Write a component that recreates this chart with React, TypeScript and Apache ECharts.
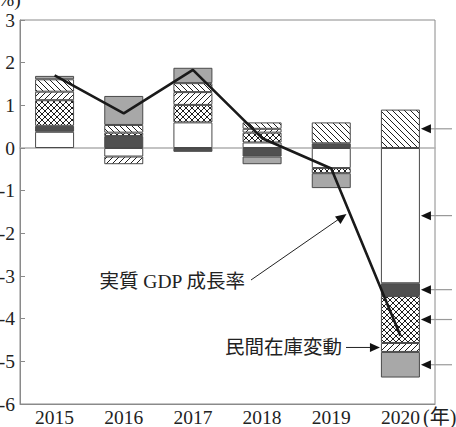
import React, { useEffect, useRef } from 'react';
import * as echarts from 'echarts';

const years = ['2015', '2016', '2017', '2018', '2019', '2020'];
// 民間消費 (white)
const consumption = [0.38, -0.2, 0.6, 0.13, -0.47, -3.17];
// 住宅投資 (dark grey)
const housing = [0.14, 0.28, -0.09, -0.2, 0.11, -0.3];
// 設備投資 (cross hatch)
const capex = [0.6, 0.08, 0.41, 0.23, -0.12, -1.1];
// 民間在庫変動 (//// hatch)
const inventory: (number | null)[] = [0.2, -0.18, 0.3, 0.09, null, -0.21];
// 公的需要 (\\\\ hatch)
const publicDemand = [0.29, 0.18, 0.21, 0.15, 0.49, 0.9];
// 純輸出 (light grey)
const netExports = [0.08, 0.68, 0.36, -0.18, -0.35, -0.6];
// 実質GDP成長率
const gdp = [1.7, 0.81, 1.83, 0.23, -0.48, -4.4];

const FONT = "'Liberation Serif', 'Noto Sans CJK JP', serif";

function makeHatch(kind: 'back' | 'fwd' | 'cross') {
  const s = 6;
  const c = document.createElement('canvas');
  c.width = s;
  c.height = s;
  const ctx = c.getContext('2d')!;
  ctx.fillStyle = '#ffffff';
  ctx.fillRect(0, 0, s, s);
  ctx.strokeStyle = '#1e1e1e';
  ctx.lineWidth = 1;
  const fwd = () => {
    ctx.beginPath();
    ctx.moveTo(0, s); ctx.lineTo(s, 0);
    ctx.moveTo(-1, 1); ctx.lineTo(1, -1);
    ctx.moveTo(s - 1, s + 1); ctx.lineTo(s + 1, s - 1);
    ctx.stroke();
  };
  const back = () => {
    ctx.beginPath();
    ctx.moveTo(0, 0); ctx.lineTo(s, s);
    ctx.moveTo(-1, s - 1); ctx.lineTo(1, s + 1);
    ctx.moveTo(s - 1, -1); ctx.lineTo(s + 1, 1);
    ctx.stroke();
  };
  if (kind === 'fwd') fwd();
  else if (kind === 'back') back();
  else { fwd(); back(); }
  return { image: c.toDataURL(), repeat: 'repeat', imageWidth: s, imageHeight: s };
}

export default function App() {
  const ref = useRef<HTMLDivElement>(null);
  useEffect(() => {
    const el = ref.current!;
    const chart = echarts.init(el, null, { renderer: 'svg' });
    const pBack = makeHatch('back');
    const pFwd = makeHatch('fwd');
    const pCross = makeHatch('cross');
    const BW = 39;
    const mkBar = (name: string, data: any[], color: any) => ({
      type: 'bar',
      name,
      data,
      stack: 'total',
      barWidth: BW,
      silent: true,
      itemStyle: { color, borderColor: '#4a4a4a', borderWidth: 1 },
    });
    const option: any = {
      animation: false,
      grid: {
        left: 20, right: 21, top: 20, bottom: 23,
        show: true, borderColor: '#8a8a8a', borderWidth: 1,
        containLabel: false, outerBoundsMode: 'none',
      },
      xAxis: [
        {
          type: 'category',
          data: years,
          axisLine: { onZero: false, lineStyle: { color: '#8a8a8a', width: 1 } },
          axisTick: { inside: true, alignWithLabel: true, length: 5, lineStyle: { color: '#8a8a8a' } },
          axisLabel: { fontSize: 19.5, fontFamily: FONT, color: '#222', margin: 4 },
          splitLine: { show: false },
        },
        {
          type: 'category',
          data: years,
          position: 'bottom',
          axisLine: { onZero: true, lineStyle: { color: '#b0b0b0', width: 1.5 } },
          axisTick: { show: false },
          axisLabel: { show: false },
          splitLine: { show: false },
        },
      ],
      yAxis: {
        type: 'value',
        min: -6,
        max: 3,
        interval: 1,
        axisLine: { show: true, lineStyle: { color: '#8a8a8a' } },
        axisTick: { show: true, inside: true, length: 5, lineStyle: { color: '#8a8a8a' } },
        axisLabel: { fontSize: 19.5, fontFamily: FONT, color: '#222', margin: 5 },
        splitLine: { show: false },
      },
      series: [
        mkBar('民間消費', consumption, '#ffffff'),
        mkBar('住宅投資', housing, '#505050'),
        mkBar('設備投資', capex, pCross),
        mkBar('民間在庫変動', inventory, pFwd),
        mkBar('公的需要', publicDemand, pBack),
        mkBar('純輸出', netExports, '#a8a8a8'),
        {
          type: 'line',
          name: '実質GDP成長率',
          data: gdp,
          symbol: 'none',
          silent: true,
          z: 5,
          lineStyle: { color: '#1a1a1a', width: 2.6 },
        },
      ],
    };
    chart.setOption(option);

    // annotation arrows for the 2020 bar, located from the data
    const last = years.length - 1;
    const segs: any[][] = [consumption, housing, capex, inventory, publicDemand, netExports];
    let pos = 0;
    let neg = 0;
    const mids = segs.map((s) => {
      const v = s[last];
      if (v == null) return null;
      let a: number, b: number;
      if (v >= 0) { a = pos; pos += v; b = pos; } else { a = neg; neg += v; b = neg; }
      return (a + b) / 2;
    });
    const cx = (chart.convertToPixel({ gridIndex: 0 } as any, [last, 0]) as number[])[0];
    const toY = (v: number) => (chart.convertToPixel({ gridIndex: 0 } as any, [last, v]) as number[])[1];
    const graphic: any[] = [];
    const head = 10;
    const hw = 4.5;
    [0, 1, 2, 4, 5].forEach((i) => {
      const m = mids[i];
      if (m == null) return;
      const y = toY(m);
      const tip = cx + BW / 2 + 1;
      graphic.push({ type: 'line', shape: { x1: tip + head - 1, y1: y, x2: 452, y2: y }, style: { stroke: '#999', lineWidth: 1.2 } });
      graphic.push({ type: 'polygon', shape: { points: [[tip, y], [tip + head, y - hw], [tip + head, y + hw]] }, style: { fill: '#111' } });
    });
    {
      const m = mids[3];
      if (m != null) {
        const y = toY(m);
        const tip = cx - BW / 2 - 1;
        graphic.push({ type: 'line', shape: { x1: 346, y1: y, x2: tip - head + 1, y2: y }, style: { stroke: '#222', lineWidth: 1 } });
        graphic.push({ type: 'polygon', shape: { points: [[tip, y], [tip - head, y - hw], [tip - head, y + hw]] }, style: { fill: '#111' } });
        graphic.push({ type: 'text', x: 342, y: y, style: { text: '民間在庫変動', fontSize: 19.5, fontFamily: FONT, fill: '#222', align: 'right', verticalAlign: 'middle' } });
      }
    }
    // GDP label
    graphic.push({ type: 'text', x: 245, y: 281, style: { text: '実質 GDP 成長率', fontSize: 19.5, fontFamily: FONT, fill: '#222', align: 'right', verticalAlign: 'middle' } });
    graphic.push({ type: 'line', shape: { x1: 251, y1: 280, x2: 339, y2: 219 }, style: { stroke: '#222', lineWidth: 1 } });
    graphic.push({ type: 'polygon', shape: { points: [[346.5, 214], [335, 216.5], [340.5, 224]] }, style: { fill: '#111' } });
    // units
    graphic.push({ type: 'text', x: -8.5, y: -1, style: { text: '(%)', fontSize: 19.5, fontFamily: FONT, fill: '#222', align: 'left', verticalAlign: 'middle' } });
    graphic.push({ type: 'text', x: 423, y: 417, style: { text: '(年)', fontSize: 20, fontFamily: FONT, fill: '#222', align: 'left', verticalAlign: 'middle' } });
    chart.setOption({ graphic });

    return () => chart.dispose();
  }, []);
  return <div ref={ref} style={{ position: 'fixed', left: 0, top: 0, width: 456, height: 427, background: '#fff' }} />;
}
